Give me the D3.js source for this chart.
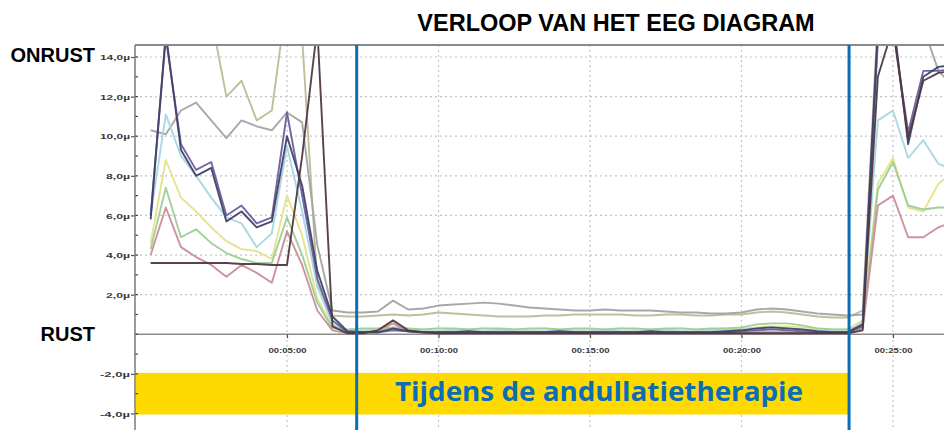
<!DOCTYPE html>
<html>
<head>
<meta charset="utf-8">
<script src="https://cdn.jsdelivr.net/npm/d3@7/dist/d3.min.js"></script>
<style>
  html, body { margin: 0; padding: 0; background: #fff; }
  svg { display: block; }
</style>
</head>
<body>
<div id="chart"></div>
<script>
/* EEG verloop - line chart with D3 v7 */
var TIMES = [0.5, 1, 1.5, 2, 2.5, 3, 3.5, 4, 4.5, 5, 5.5, 6, 6.5, 7, 7.5, 8, 8.5, 9, 9.5, 10,
  10.5, 11, 11.5, 12, 12.5, 13, 13.5, 14, 14.5, 15, 15.5, 16, 16.5, 17, 17.5, 18, 18.5, 19, 19.5, 20,
  20.5, 21, 21.5, 22, 22.5, 23, 23.5, 24, 24.5, 25, 25.5, 26, 26.5, 27];

var olive = [17, 18, 17.5, 17, 16, 12.0, 12.8, 10.8, 11.3, 17, 15, 2.5, 0.95, 0.9, 0.9, 0.95, 1.0, 0.95, 1.0, 1.1,
  1.05, 1.0, 0.95, 0.9, 0.9, 0.9, 0.95, 0.95, 1.0, 1.0, 1.0, 1.0, 0.95, 0.95, 1.0, 1.0, 0.95, 0.95, 1.0, 1.0,
  1.1, 1.15, 1.1, 1.0, 0.9, 0.85, 0.85, 1.2, 16, 17.5, 17, 17, 16, 15];
var gray = [10.3, 10.1, 11.3, 11.7, 10.8, 9.9, 10.8, 10.5, 10.3, 11.2, 10.7, 4.5, 1.2, 1.1, 1.1, 1.15, 1.7, 1.25, 1.3, 1.45,
  1.5, 1.55, 1.6, 1.55, 1.45, 1.35, 1.3, 1.25, 1.2, 1.2, 1.25, 1.2, 1.2, 1.2, 1.15, 1.1, 1.1, 1.05, 1.05, 1.1,
  1.25, 1.3, 1.25, 1.15, 1.05, 1.0, 0.95, 1.0, 15, 16, 16, 15.5, 13.3, 12.5];
var yellow = [4.6, 8.8, 6.9, 6.2, 5.4, 4.7, 4.3, 4.2, 3.8, 7.0, 5.0, 1.8, 0.4, 0.2, 0.25, 0.25, 0.3, 0.25, 0.25, 0.3,
  0.25, 0.25, 0.3, 0.25, 0.25, 0.25, 0.3, 0.25, 0.25, 0.25, 0.25, 0.3, 0.25, 0.25, 0.25, 0.3, 0.25, 0.25, 0.3, 0.3,
  0.35, 0.4, 0.4, 0.35, 0.3, 0.25, 0.25, 0.7, 7.6, 8.9, 6.4, 6.2, 7.6, 8.2];
var cyan = [6.0, 11.1, 9.0, 8.0, 6.9, 5.9, 5.6, 4.4, 5.1, 9.5, 6.2, 2.4, 0.5, 0.15, 0.15, 0.2, 0.25, 0.2, 0.15, 0.15,
  0.2, 0.15, 0.15, 0.2, 0.15, 0.15, 0.15, 0.2, 0.15, 0.15, 0.2, 0.15, 0.15, 0.15, 0.2, 0.15, 0.15, 0.2, 0.2, 0.25,
  0.3, 0.35, 0.3, 0.25, 0.2, 0.15, 0.15, 0.6, 10.8, 11.3, 8.9, 9.8, 8.6, 8.3];
var green = [4.3, 7.4, 4.9, 5.3, 4.6, 4.1, 3.8, 3.6, 3.6, 5.9, 4.0, 1.6, 0.3, 0.25, 0.3, 0.3, 0.35, 0.3, 0.25, 0.3,
  0.3, 0.25, 0.3, 0.3, 0.25, 0.3, 0.3, 0.25, 0.3, 0.3, 0.25, 0.3, 0.3, 0.25, 0.3, 0.3, 0.25, 0.3, 0.3, 0.35,
  0.5, 0.55, 0.55, 0.45, 0.3, 0.25, 0.25, 0.4, 7.3, 8.7, 6.5, 6.3, 6.4, 6.4];
var pink = [4.0, 6.4, 4.4, 3.9, 3.5, 2.9, 3.5, 3.1, 2.6, 5.2, 3.5, 1.2, 0.2, 0.05, 0.05, 0.2, 0.55, 0.15, 0.05, 0.05,
  0.05, 0.05, 0.05, 0.05, 0.05, 0.05, 0.05, 0.05, 0.05, 0.05, 0.05, 0.05, 0.05, 0.05, 0.05, 0.05, 0.05, 0.05, 0.05, 0.05,
  0.1, 0.1, 0.1, 0.05, 0.05, 0.05, 0.05, 0.3, 6.5, 7.0, 4.9, 4.9, 5.4, 5.7];
var purple = [6.0, 15.0, 9.6, 8.3, 8.7, 6.0, 6.5, 5.6, 5.9, 11.2, 7.0, 2.8, 0.7, 0.1, 0.1, 0.1, 0.2, 0.15, 0.1, 0.1,
  0.1, 0.1, 0.1, 0.1, 0.1, 0.1, 0.1, 0.1, 0.1, 0.1, 0.1, 0.1, 0.1, 0.1, 0.1, 0.1, 0.1, 0.1, 0.1, 0.15,
  0.2, 0.25, 0.2, 0.15, 0.1, 0.1, 0.1, 0.4, 14.8, 15.5, 10.2, 13.3, 13.3, 13.4];
var navy = [5.8, 15.2, 9.3, 8.0, 8.4, 5.7, 6.2, 5.4, 5.7, 10.0, 7.5, 3.2, 0.9, 0.15, 0.1, 0.1, 0.3, 0.15, 0.1, 0.1,
  0.1, 0.15, 0.1, 0.1, 0.1, 0.1, 0.1, 0.15, 0.1, 0.1, 0.1, 0.1, 0.1, 0.15, 0.1, 0.1, 0.1, 0.1, 0.15, 0.2,
  0.3, 0.35, 0.3, 0.25, 0.15, 0.1, 0.1, 0.5, 15.5, 16, 9.6, 13.0, 13.5, 13.6];
var dark = [3.6, 3.6, 3.6, 3.6, 3.6, 3.6, 3.55, 3.55, 3.5, 3.5, 9.0, 15.5, 0.4, 0.05, 0.05, 0.2, 0.7, 0.2, 0.1, 0.05,
  0.05, 0.05, 0.05, 0.05, 0.05, 0.05, 0.05, 0.05, 0.05, 0.05, 0.05, 0.05, 0.05, 0.05, 0.05, 0.05, 0.05, 0.05, 0.05, 0.05,
  0.05, 0.05, 0.05, 0.05, 0.05, 0.05, 0.05, 0.2, 13, 15.5, 9.9, 12.8, 13.2, 13.3];

var SERIES = [
  { name: 'olive',  values: olive,  color: '#b9bd92' },
  { name: 'gray',   values: gray,   color: '#a3a3a3' },
  { name: 'yellow', values: yellow, color: '#e4e388' },
  { name: 'cyan',   values: cyan,   color: '#a6d6e2' },
  { name: 'green',  values: green,  color: '#9ecc92' },
  { name: 'pink',   values: pink,   color: '#c98c9b' },
  { name: 'purple', values: purple, color: '#6b5e9e' },
  { name: 'navy',   values: navy,   color: '#3f4268' },
  { name: 'dark',   values: dark,   color: '#4e3a40' }
];

var Y_TICKS = [14, 12, 10, 8, 6, 4, 2, -2, -4];
var Y_LABELS = ['14,0\u00b5', '12,0\u00b5', '10,0\u00b5', '8,0\u00b5', '6,0\u00b5', '4,0\u00b5', '2,0\u00b5', '-2,0\u00b5', '-4,0\u00b5'];
var X_TICKS = [5, 10, 15, 20, 25];
var X_LABELS = ['00:05:00', '00:10:00', '00:15:00', '00:20:00', '00:25:00'];
var PHASE = [7.3, 23.55];  // start / end of the therapy (minutes)
var TITLE = 'VERLOOP VAN HET EEG DIAGRAM';
var PHASE_LABEL = 'Tijdens de andullatietherapie';

(function() {
  var width = 944, height = 430;
  var left = 135, top = 45, right = 944;

  var x = d3.scaleLinear().domain([0, 27]).range([135.5, 953.6]);
  var y = d3.scaleLinear().domain([-4, 14]).range([413.5, 57]);

  var svg = d3.select('#chart').append('svg')
    .attr('width', width)
    .attr('height', height)
    .attr('viewBox', [0, 0, width, height]);

  svg.append('defs').append('clipPath').attr('id', 'plot-clip')
    .append('rect')
    .attr('x', left).attr('y', top + 1)
    .attr('width', right - left).attr('height', height - top);

  // Dotted grid
  var grid = svg.append('g');
  grid.selectAll('line.h')
    .data(Y_TICKS.filter(function(v) { return v > 0; }))
    .join('line')
    .attr('class', 'h')
    .attr('x1', left).attr('x2', right)
    .attr('y1', function(d) { return y(d); })
    .attr('y2', function(d) { return y(d); })
    .attr('stroke', '#c4c4c4')
    .attr('stroke-width', 1.2)
    .attr('stroke-dasharray', '2,3');
  grid.selectAll('line.v')
    .data(X_TICKS)
    .join('line')
    .attr('class', 'v')
    .attr('x1', function(d) { return x(d); })
    .attr('x2', function(d) { return x(d); })
    .attr('y1', top).attr('y2', height)
    .attr('stroke', '#c4c4c4')
    .attr('stroke-width', 1.2)
    .attr('stroke-dasharray', '2,3');

  // Frame: top line and zero line
  svg.append('line')
    .attr('x1', left).attr('x2', right)
    .attr('y1', top).attr('y2', top)
    .attr('stroke', '#8a8a8a').attr('stroke-width', 2);
  svg.append('line')
    .attr('x1', left).attr('x2', right)
    .attr('y1', y(0)).attr('y2', y(0))
    .attr('stroke', '#8c8c8c').attr('stroke-width', 1.5);

  // Yellow band (-2 .. -4) for the therapy label
  svg.append('rect')
    .attr('x', left + 1)
    .attr('y', y(-2) - 1)
    .attr('width', x(PHASE[1]) - left - 1)
    .attr('height', y(-4) - y(-2) + 2)
    .attr('fill', '#ffda00');

  // Series lines
  var line = d3.line()
    .x(function(d, i) { return x(TIMES[i]); })
    .y(function(d) { return y(d); });

  svg.append('g')
    .attr('clip-path', 'url(#plot-clip)')
    .selectAll('path')
    .data(SERIES)
    .join('path')
    .attr('d', function(s) { return line(s.values); })
    .attr('fill', 'none')
    .attr('stroke', function(s) { return s.color; })
    .attr('stroke-width', 1.9)
    .attr('stroke-linejoin', 'round')
    .attr('opacity', 0.95);

  // Y axis
  var yAxis = d3.axisLeft(y)
    .tickValues(Y_TICKS)
    .tickSize(4)
    .tickFormat(function(d, i) { return Y_LABELS[i]; });
  var ya = svg.append('g')
    .attr('transform', 'translate(' + left + ',0)')
    .call(yAxis);
  ya.select('.domain').remove();
  ya.selectAll('line').attr('stroke', '#555').attr('stroke-width', 1.2);
  ya.selectAll('text')
    .attr('font-family', 'Liberation Sans, Arial, sans-serif')
    .attr('font-size', 8)
    .attr('font-weight', 'bold')
    .attr('fill', '#3a3a3a')
    .attr('x', -5)
    .attr('textLength', function(d, i) { return Y_LABELS[i].length * 6; })
    .attr('lengthAdjust', 'spacingAndGlyphs');

  // minor ticks on the y axis
  svg.append('g')
    .selectAll('line')
    .data(d3.range(-4, 15, 1))
    .join('line')
    .attr('x1', left).attr('x2', left + 3)
    .attr('y1', function(d) { return y(d); })
    .attr('y2', function(d) { return y(d); })
    .attr('stroke', '#444').attr('stroke-width', 1.2);

  svg.append('line')
    .attr('x1', left).attr('x2', left)
    .attr('y1', top).attr('y2', height)
    .attr('stroke', '#7a7a7a').attr('stroke-width', 1.5);

  // X axis
  var xAxis = d3.axisBottom(x)
    .tickValues(X_TICKS)
    .tickSize(4)
    .tickFormat(function(d, i) { return X_LABELS[i]; });
  var xa = svg.append('g')
    .attr('transform', 'translate(0,' + y(0) + ')')
    .call(xAxis);
  xa.select('.domain').remove();
  xa.selectAll('line').attr('stroke', '#555').attr('stroke-width', 1.2);
  xa.selectAll('text')
    .attr('font-family', 'Liberation Sans, Arial, sans-serif')
    .attr('font-size', 8)
    .attr('font-weight', 'bold')
    .attr('fill', '#3a3a3a')
    .attr('y', 13)
    .attr('textLength', 38)
    .attr('lengthAdjust', 'spacingAndGlyphs');

  // Therapy start / end markers
  svg.append('g')
    .selectAll('line')
    .data(PHASE)
    .join('line')
    .attr('x1', function(d) { return x(d); })
    .attr('x2', function(d) { return x(d); })
    .attr('y1', top).attr('y2', height)
    .attr('stroke', '#0b6db5')
    .attr('stroke-width', 3);

  // Texts
  svg.append('text')
    .attr('x', 616).attr('y', 31)
    .attr('text-anchor', 'middle')
    .attr('font-family', 'Liberation Sans, Arial, sans-serif')
    .attr('font-weight', 'bold')
    .attr('font-size', 23.5)
    .attr('fill', '#000')
    .text(TITLE);

  svg.append('text')
    .attr('x', 95).attr('y', 62)
    .attr('text-anchor', 'end')
    .attr('font-family', 'Liberation Sans, Arial, sans-serif')
    .attr('font-weight', 'bold')
    .attr('font-size', 20)
    .attr('fill', '#000')
    .text('ONRUST');

  svg.append('text')
    .attr('x', 95).attr('y', 341)
    .attr('text-anchor', 'end')
    .attr('font-family', 'Liberation Sans, Arial, sans-serif')
    .attr('font-weight', 'bold')
    .attr('font-size', 20)
    .attr('fill', '#000')
    .text('RUST');

  svg.append('text')
    .attr('x', 395).attr('y', 401)
    .attr('font-family', 'Open Sans, sans-serif')
    .attr('font-weight', 'bold')
    .attr('font-size', 27)
    .attr('fill', '#0b6db5')
    .attr('textLength', 408)
    .attr('lengthAdjust', 'spacingAndGlyphs')
    .text(PHASE_LABEL);
})();
</script>
</body>
</html>
